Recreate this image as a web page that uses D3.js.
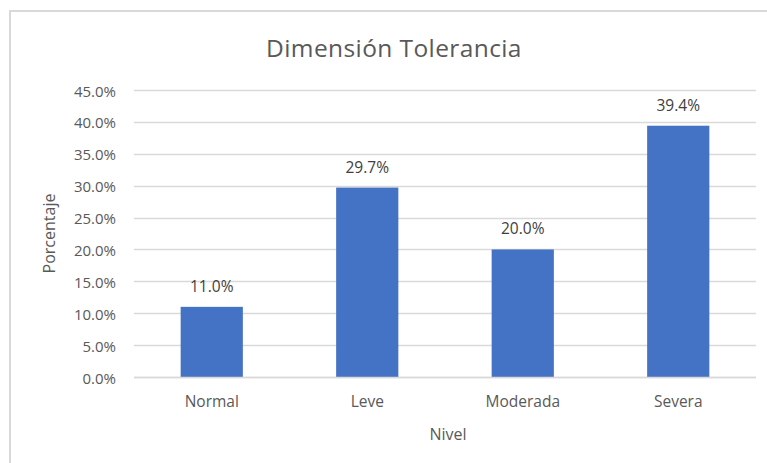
<!DOCTYPE html>
<html>
<head>
<meta charset="utf-8">
<script src="https://cdn.jsdelivr.net/npm/d3@7"></script>
<style>
  body { margin: 0; background: #fff; }
  text { font-family: "Open Sans", "Noto Sans", sans-serif; }
</style>
</head>
<body>
<svg id="chart" width="767" height="463"></svg>
<script>
// chart data
var categories = ["Normal", "Leve", "Moderada", "Severa"];
var values = [0.110, 0.297, 0.200, 0.394];
var yTicks = [0, 0.05, 0.10, 0.15, 0.20, 0.25, 0.30, 0.35, 0.40, 0.45];

var svg = d3.select("#chart");
var gray = "#595959";

// outer chart border
svg.append("rect")
    .attr("x", 10).attr("y", 11)
    .attr("width", 780).attr("height", 480)
    .attr("fill", "none")
    .attr("stroke", "#d9d9d9")
    .attr("stroke-width", 2);

// plot area (note: "top" is reserved on window, so use plot* names)
var plotLeft = 134, plotRight = 756, plotTop = 90, plotBottom = 377;

var x = d3.scaleBand()
    .domain(categories)
    .range([plotLeft, plotRight])
    .paddingInner(0.6)
    .paddingOuter(0.3);

var y = d3.scaleLinear()
    .domain([0, 0.45])
    .range([plotBottom, plotTop]);

// gridlines
svg.append("g")
    .selectAll("line")
    .data(yTicks)
    .enter()
    .append("line")
    .attr("x1", plotLeft).attr("x2", plotRight)
    .attr("y1", function (d) { return Math.round(y(d)) + 0.5; })
    .attr("y2", function (d) { return Math.round(y(d)) + 0.5; })
    .attr("stroke", "#d9d9d9")
    .attr("stroke-width", 1.3);

// y axis labels
var yAxis = d3.axisLeft(y)
    .tickValues(yTicks)
    .tickFormat(d3.format(".1%"))
    .tickSize(0)
    .tickPadding(18);
var gy = svg.append("g")
    .attr("transform", "translate(" + plotLeft + ",0)")
    .call(yAxis);
gy.select(".domain").remove();
gy.selectAll("text")
    .attr("fill", gray)
    .attr("dy", "0.4em")
    .style("font-size", "15px")
    .style("font-family", "'Open Sans', sans-serif");

// bars
svg.append("g")
    .selectAll("rect")
    .data(values)
    .enter()
    .append("rect")
    .attr("x", function (d, i) { return x(categories[i]); })
    .attr("y", function (d) { return y(d); })
    .attr("width", x.bandwidth())
    .attr("height", function (d) { return y(0) - y(d); })
    .attr("fill", "#4472c4");

// x axis line
svg.append("line")
    .attr("x1", plotLeft).attr("x2", plotRight)
    .attr("y1", plotBottom + 0.5).attr("y2", plotBottom + 0.5)
    .attr("stroke", "#d9d9d9")
    .attr("stroke-width", 1.3);

// data labels
svg.append("g")
    .selectAll("text")
    .data(values)
    .enter()
    .append("text")
    .attr("x", function (d, i) { return x(categories[i]) + x.bandwidth() / 2; })
    .attr("y", function (d) { return y(d) - 15; })
    .attr("text-anchor", "middle")
    .attr("fill", "#404040")
    .style("font-size", "15.5px")
    .text(function (d) { return d3.format(".1%")(d); });

// category labels
var xAxis = d3.axisBottom(x).tickSize(0).tickPadding(19);
var gx = svg.append("g")
    .attr("transform", "translate(0," + plotBottom + ")")
    .call(xAxis);
gx.select(".domain").remove();
gx.selectAll("text")
    .attr("fill", gray)
    .style("font-size", "15.5px")
    .style("font-family", "'Open Sans', sans-serif");

// axis titles
svg.append("text")
    .attr("x", (plotLeft + plotRight) / 2 + 3)
    .attr("y", 440)
    .attr("text-anchor", "middle")
    .attr("fill", gray)
    .style("font-size", "16px")
    .text("Nivel");

svg.append("text")
    .attr("transform", "translate(55," + ((plotTop + plotBottom) / 2) + ") rotate(-90)")
    .attr("text-anchor", "middle")
    .attr("fill", gray)
    .style("font-size", "16px")
    .text("Porcentaje");

// chart title
svg.append("text")
    .attr("x", 394)
    .attr("y", 57)
    .attr("text-anchor", "middle")
    .attr("fill", gray)
    .style("font-size", "24.5px")
    .style("letter-spacing", "0.4px")
    .text("Dimensión Tolerancia");
</script>
</body>
</html>
